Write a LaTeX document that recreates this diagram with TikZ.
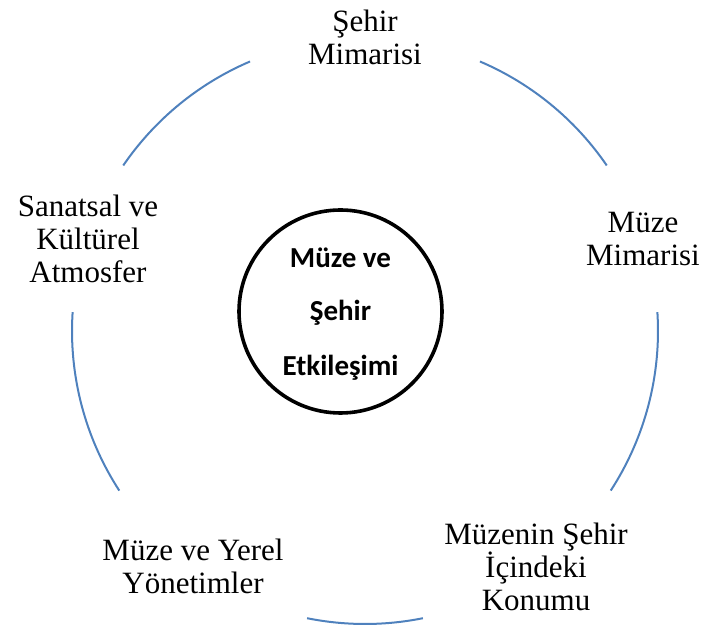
\documentclass[tikz,border=0pt]{standalone}
\usepackage{fontspec}
\setmainfont{Liberation Serif}
\newfontfamily\carlito{Carlito}
\definecolor{arcblue}{RGB}{79,129,189}
\begin{document}
\begin{tikzpicture}[x=1pt,y=1pt,
  outerlabel/.style={align=center,inner sep=0pt,anchor=base,font=\fontsize{31}{33}\selectfont},
  centerlabel/.style={inner sep=0pt,anchor=base,font=\carlito\bfseries\fontsize{29}{30}\selectfont},
  cyclearc/.style={draw=arcblue,line width=2pt}]
\useasboundingbox (0,0) rectangle (707,626);
\coordinate (O) at (365,295);
\node[draw=black,line width=3.6pt,circle,minimum size=203pt,inner sep=0pt] (hub) at (340.5,314.5) {};
\node[centerlabel] (c1) at (340.5,626-268) {Müze ve};
\node[centerlabel] (c2) at (340.5,626-321) {Şehir};
\node[centerlabel] (c3) at (340.5,626-376) {Etkileşimi};
\node[outerlabel] (n1) at (365,626-65) {Şehir\\Mimarisi};
\node[outerlabel] (n2) at (643,626-266) {Müze\\Mimarisi};
\node[outerlabel] (n3) at (536,626-611) {Müzenin Şehir\\İçindeki\\Konumu};
\node[outerlabel] (n4) at (193,626-594) {Müze ve Yerel\\Yönetimler};
\node[outerlabel] (n5) at (88,626-283) {Sanatsal ve\\Kültürel\\Atmosfer};
\draw[cyclearc] (O) ++(145.6:293) arc[start angle=145.6,end angle=113.1,radius=293];
\draw[cyclearc] (O) ++(66.9:293) arc[start angle=66.9,end angle=34.4,radius=293];
\draw[cyclearc] (O) ++(3.7:293) arc[start angle=3.7,end angle=-33.0,radius=293];
\draw[cyclearc] (O) ++(-78.6:293) arc[start angle=-78.6,end angle=-101.4,radius=293];
\draw[cyclearc] (O) ++(213:293) arc[start angle=213,end angle=176.3,radius=293];
\end{tikzpicture}
\end{document}
